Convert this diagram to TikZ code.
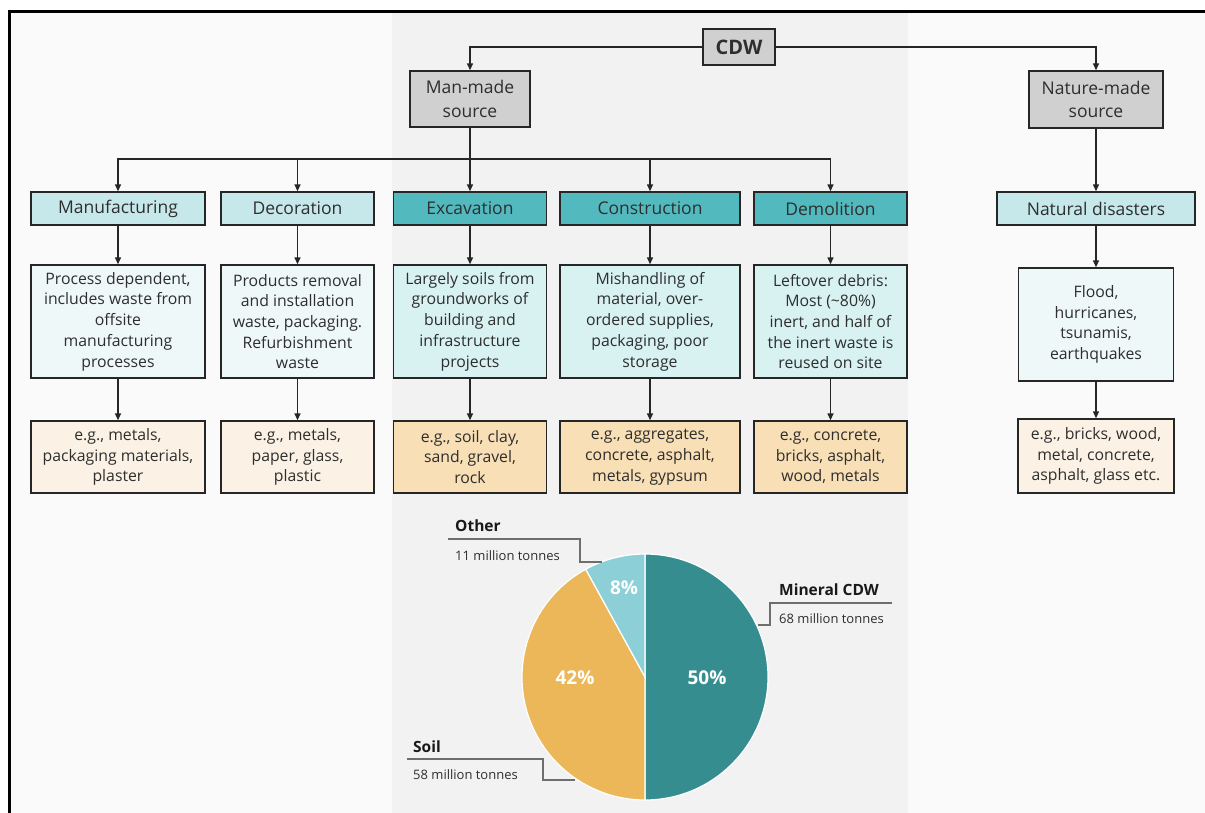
\documentclass[tikz,border=0pt]{standalone}
\usepackage{fontspec}
\setmainfont{Open Sans}
\usetikzlibrary{arrows.meta}

\definecolor{srcgray}{HTML}{D0D0D0}
\definecolor{catlight}{HTML}{C6E8EA}
\definecolor{catdark}{HTML}{52BABF}
\definecolor{desclight}{HTML}{EFF8F8}
\definecolor{descdark}{HTML}{D8F1F1}
\definecolor{eglight}{HTML}{FBF2E5}
\definecolor{egdark}{HTML}{F8DFB6}
\definecolor{piemin}{HTML}{358D8F}
\definecolor{piesoil}{HTML}{ECB759}
\definecolor{pieother}{HTML}{8DCFD6}
\definecolor{bandgray}{HTML}{F2F2F2}
\definecolor{pagegray}{HTML}{FAFAFA}
\definecolor{leadgray}{HTML}{6E6E6E}
\definecolor{txtgray}{HTML}{2E2E2E}

\tikzset{
  box/.style={draw=black!85, line width=1.4pt, align=center, inner sep=2pt,
    text=txtgray, font=\fontsize{15.8}{20.7}\selectfont},
  srcbox/.style={box, fill=srcgray, font=\fontsize{17.5}{23.5}\selectfont},
  catbox/.style={box, minimum height=33pt, font=\fontsize{17.5}{20}\selectfont},
  descbox/.style={box, minimum height=113pt},
  egbox/.style={box, minimum height=72pt},
  link/.style={draw=black!85, line width=1.4pt, -{Triangle[length=7pt,width=6pt]}},
  leader/.style={draw=leadgray, line width=1.1pt},
  slice/.style={draw=white, line width=1.2pt},
  pct/.style={text=white, font=\fontsize{19}{19}\selectfont\bfseries},
  piehead/.style={anchor=base west, inner sep=0pt, text=black!90,
    font=\fontsize{15.5}{15.5}\selectfont\bfseries},
  pienote/.style={anchor=base west, inner sep=0pt, text=txtgray,
    font=\fontsize{13}{13}\selectfont},
}

\begin{document}
\begin{tikzpicture}[x=1pt, y=-1pt]
    \useasboundingbox (0,0) rectangle (1205,812);
    \clip (0,0) rectangle (1205,812);
    % backdrop and frame
    \fill[pagegray] (10,12) rectangle (1225,830);
    \fill[bandgray] (392,12) rectangle (908,830);
    \draw[line width=2.5pt] (9.5,11.5) rectangle (1225,830);

    % sources
    \node[srcbox, minimum width=72pt, minimum height=36pt,
      font=\fontsize{20}{20}\selectfont\bfseries] (cdw) at (739,47) {CDW};
    \node[srcbox, minimum width=120pt, minimum height=56pt] (man) at (470,99) {Man-made\\source};
    \node[srcbox, minimum width=134pt, minimum height=57pt] (nat) at (1096,99.5) {Nature-made\\source};
    \draw[link] (cdw.west) -| (man.north);
    \draw[link] (cdw.east) -| (nat.north);

    % man-made columns
    \foreach \id/\x/\w/\tone/\cat/\desc/\eg in {
        manu/118/174/light/Manufacturing/{Process dependent,\\includes waste from\\offsite\\manufacturing\\processes}/{e.g., metals,\\packaging materials,\\plaster},
        deco/297.5/153/light/Decoration/{Products removal\\and installation\\waste, packaging.\\Refurbishment\\waste}/{e.g., metals,\\paper, glass,\\plastic},
        exc/470/153/dark/Excavation/{Largely soils from\\groundworks of\\building and\\infrastructure\\projects}/{e.g., soil, clay,\\sand, gravel,\\rock},
        con/650/180/dark/Construction/{Mishandling of\\material, over-\\ordered supplies,\\packaging, poor\\storage}/{e.g., aggregates,\\concrete, asphalt,\\metals, gypsum},
        dem/830.5/153/dark/Demolition/{Leftover debris:\\Most (\textasciitilde80\%)\\inert, and half of\\the inert waste is\\reused on site}/{e.g., concrete,\\bricks, asphalt,\\wood, metals}}{
        \node[catbox, fill=cat\tone, minimum width=\w pt] (\id) at (\x,208.5) {\cat};
        \node[descbox, fill=desc\tone, minimum width=\w pt] (\id-d) at (\x,321.5) {\desc};
        \node[egbox, fill=eg\tone, minimum width=\w pt] (\id-e) at (\x,457) {\eg};
        \draw[link] (\id) -- (\id-d);
        \draw[link] (\id-d) -- (\id-e);
    }
    \coordinate (bus) at (470,159);
    \draw[link] (man) -- (exc);
    \foreach \id in {manu, deco, con, dem}
        \draw[link] (bus) -| (\id.north);

    % nature-made column
    \node[catbox, fill=catlight, minimum width=198pt] (natd) at (1096,208.5) {Natural disasters};
    \node[descbox, fill=desclight, minimum width=155pt] (natd-d) at (1096,324.5) {Flood,\\hurricanes,\\tsunamis,\\earthquakes};
    \node[egbox, fill=eglight, minimum width=156pt, minimum height=74pt] (natd-e) at (1096,456) {e.g., bricks, wood,\\metal, concrete,\\asphalt, glass etc.};
    \draw[link] (nat) -- (natd);
    \draw[link] (natd) -- (natd-d);
    \draw[link] (natd-d) -- (natd-e);

    % pie chart
    \begin{scope}[shift={(645,677)}, yscale=-1]
        \filldraw[slice, fill=piemin] (0,0) -- (90:123) arc[start angle=90, end angle=-90, radius=123] -- cycle;
        \filldraw[slice, fill=piesoil] (0,0) -- (118.8:123) arc[start angle=118.8, end angle=270, radius=123] -- cycle;
        \filldraw[slice, fill=pieother] (0,0) -- (90:123) arc[start angle=90, end angle=118.8, radius=123] -- cycle;
    \end{scope}
    \node[pct] (p-min) at (707,678) {50\%};
    \node[pct] (p-soil) at (575,678) {42\%};
    \node[pct] (p-oth) at (624,588) {8\%};

    % pie labels
    \node[piehead] (oth) at (455,531) {Other};
    \node[pienote] (oth-v) at (455,560) {11 million tonnes};
    \coordinate (oth-a) at (448,539);
    \coordinate (oth-b) at (602,562);
    \draw[leader] (oth-a) -- ++(132,0) |- (oth-b);

    \node[piehead] (mcdw) at (779,595) {Mineral CDW};
    \node[pienote] (mcdw-v) at (779,623) {68 million tonnes};
    \coordinate (mcdw-a) at (892,603);
    \coordinate (mcdw-b) at (758,625);
    \draw[leader] (mcdw-a) -- ++(-122,0) |- (mcdw-b);

    \node[piehead] (soil) at (413,752) {Soil};
    \node[pienote] (soil-v) at (413,779) {58 million tonnes};
    \coordinate (soil-a) at (407,759);
    \coordinate (soil-b) at (575,780);
    \draw[leader] (soil-a) -- ++(136,0) |- (soil-b);
\end{tikzpicture}
\end{document}
